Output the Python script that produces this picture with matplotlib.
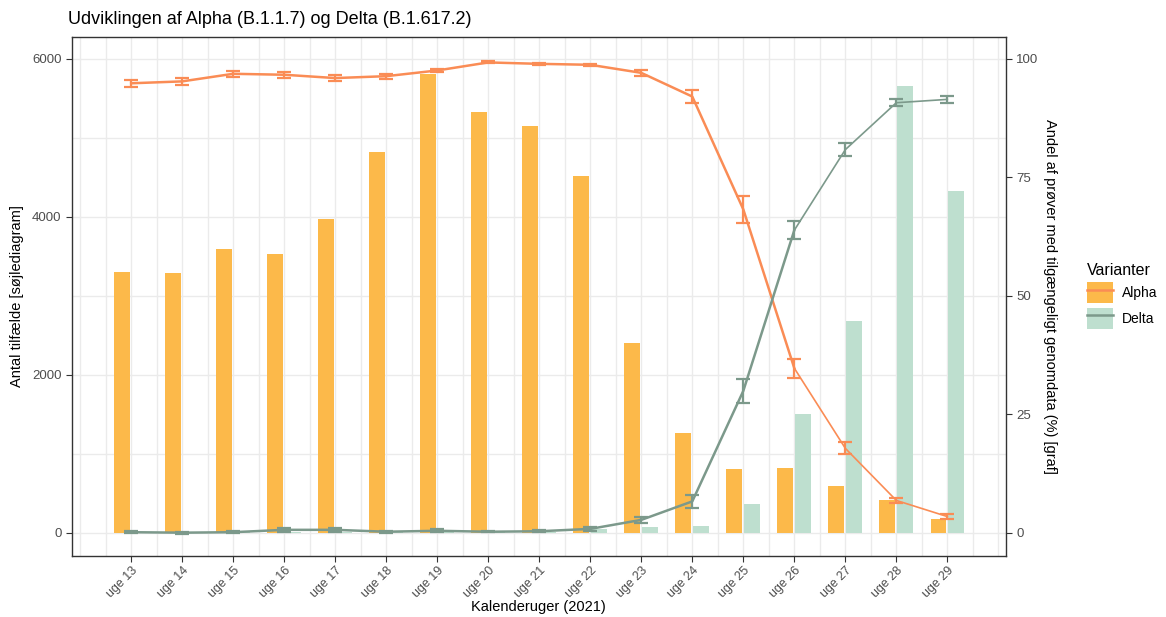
import matplotlib.pyplot as plt
import numpy as np
from matplotlib.patches import Patch
from matplotlib.lines import Line2D

plt.rcParams['font.family'] = ['Liberation Sans', 'DejaVu Sans']

# Data
weeks = ['uge 13', 'uge 14', 'uge 15', 'uge 16', 'uge 17', 'uge 18', 'uge 19', 'uge 20', 'uge 21',
         'uge 22', 'uge 23', 'uge 24', 'uge 25', 'uge 26', 'uge 27', 'uge 28', 'uge 29']
alpha_cases = [3305, 3293, 3587, 3524, 3970, 4825, 5805, 5330, 5150, 4510, 2396, 1267, 804, 821, 590, 413, 168]
delta_cases = [0, 0, 5, 10, 12, 5, 8, 3, 5, 50, 76, 88, 358, 1503, 2678, 5650, 4320]

alpha_pct = [94.8, 95.2, 96.8, 96.6, 95.9, 96.3, 97.5, 99.2, 98.9, 98.7, 97.0, 92.0, 68.2, 34.7, 17.8, 6.8, 3.4]
alpha_err = [0.7, 0.7, 0.6, 0.6, 0.6, 0.5, 0.3, 0.2, 0.2, 0.2, 0.6, 1.3, 2.8, 2.0, 1.3, 0.6, 0.6]
delta_pct = [0.1, 0.0, 0.1, 0.6, 0.6, 0.2, 0.4, 0.2, 0.3, 0.8, 2.7, 6.6, 29.9, 63.8, 80.8, 90.7, 91.4]
delta_err = [0.2, 0.2, 0.2, 0.4, 0.4, 0.2, 0.3, 0.1, 0.2, 0.4, 0.7, 1.4, 2.5, 1.9, 1.3, 0.7, 0.7]

col_alpha_bar = '#FCB94A'
col_delta_bar = '#BEDFCF'
col_alpha_line = '#FA8C55'
col_delta_line = '#7C998B'
grid_col = '#EBEBEB'
tick_col = '#4D4D4D'

x = np.arange(len(weeks))

fig = plt.figure(figsize=(11.66, 6.17), dpi=100)
ax = fig.add_axes([72 / 1166, (617 - 556) / 617, (1006 - 72) / 1166, (556 - 37.3) / 617])

ax.set_axisbelow(True)
ax.bar(x - 0.175, alpha_cases, width=0.31, color=col_alpha_bar, zorder=2)
ax.bar(x + 0.175, delta_cases, width=0.31, color=col_delta_bar, zorder=2)

ax.set_xlim(-1.16, 17.15)
ax.set_ylim(-295, 6271)
ax.set_yticks([0, 2000, 4000, 6000])
ax.set_yticks([1000, 3000, 5000], minor=True)
ax.set_xticks(x)
ax.set_xticklabels(weeks, rotation=45, ha='right', rotation_mode='anchor')
ax.set_xticks(np.arange(-1, 17.01, 0.5), minor=True)
ax.grid(True, which='both', color=grid_col, linewidth=1.0, zorder=0)
ax.tick_params(which='minor', length=0)
ax.tick_params(which='major', length=4, color='#333333', labelcolor=tick_col, labelsize=9.5)
ax.tick_params(axis='x', which='major', labelsize=9, pad=2)
for s in ax.spines.values():
    s.set_color('#333333')
    s.set_linewidth(1.0)

ax2 = ax.twinx()
ax2.set_ylim(-4.92, 104.5)
ax2.set_yticks([0, 25, 50, 75, 100])
ax2.tick_params(length=4, color='#333333', labelcolor=tick_col, labelsize=9.5)
for s in ax2.spines.values():
    s.set_visible(False)

# linjer: tykkere til og med uge 26, tyndere derefter
for pct, err, col in [(alpha_pct, alpha_err, col_alpha_line), (delta_pct, delta_err, col_delta_line)]:
    ax2.plot(x[:14], pct[:14], color=col, linewidth=1.8, zorder=3)
    ax2.plot(x[13:], pct[13:], color=col, linewidth=1.2, zorder=3)
    ax2.errorbar(x, pct, yerr=err, fmt='none', ecolor=col, elinewidth=1.6,
                 capsize=5, capthick=1.6, zorder=4)

fig.text(68 / 1166, 1 - 19 / 617, 'Udviklingen af Alpha (B.1.1.7) og Delta (B.1.617.2)',
         fontsize=13, va='center', ha='left')
fig.text(538 / 1166, 1 - 607 / 617, 'Kalenderuger (2021)', fontsize=10.5, ha='center', va='center')
fig.text(17 / 1166, 1 - 296 / 617, 'Antal tilfælde [søjlediagram]', fontsize=10.5,
         rotation=90, ha='center', va='center')
fig.text(1050 / 1166, 1 - 296 / 617, 'Andel af prøver med tilgængeligt genomdata (%) [graf]',
         fontsize=10.5, rotation=270, ha='center', va='center')

handles = [(Patch(facecolor=col_alpha_bar), Line2D([], [], color=col_alpha_line, linewidth=1.8)),
           (Patch(facecolor=col_delta_bar), Line2D([], [], color=col_delta_line, linewidth=1.8))]
fig.legend(handles, ['Alpha', 'Delta'], title='Varianter', loc='upper left',
           bbox_to_anchor=(1084 / 1166, 1 - 260 / 617), frameon=False, fontsize=10,
           title_fontsize=11.5, handlelength=1.9, handleheight=2.0, labelspacing=0.3,
           handletextpad=0.6, borderpad=0.2, borderaxespad=0, alignment='left')

fig.savefig('out.png', dpi=100)
